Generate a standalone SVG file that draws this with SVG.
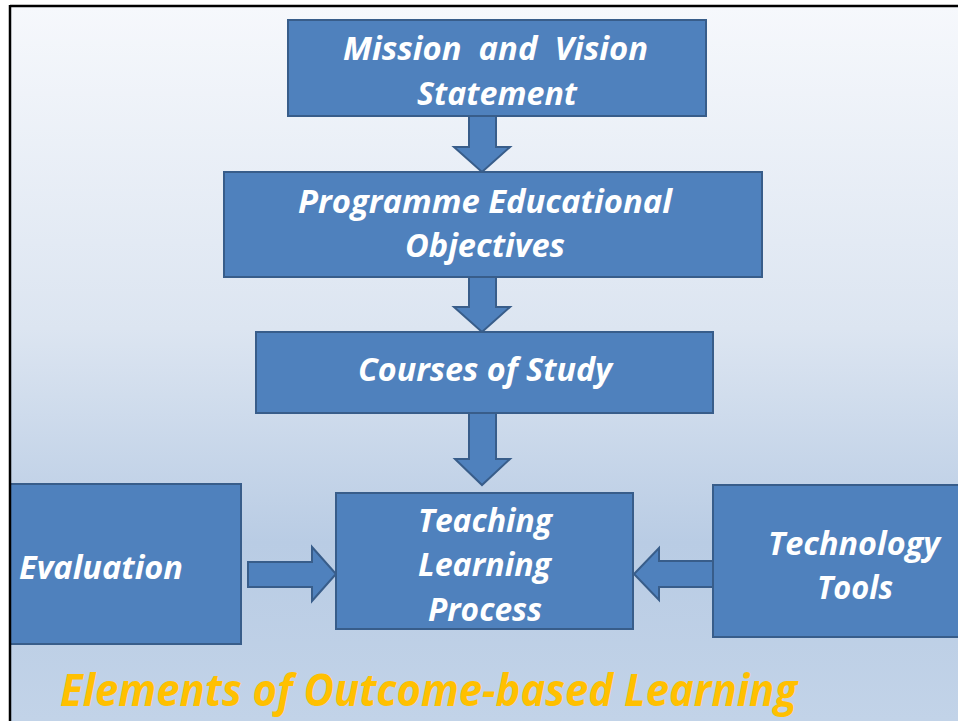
<svg xmlns="http://www.w3.org/2000/svg" width="958" height="721" viewBox="0 0 958 721">
<defs>
<linearGradient id="bg" x1="0" y1="0" x2="0" y2="1">
<stop offset="0" stop-color="#F6F8FC"/>
<stop offset="0.45" stop-color="#DCE5F1"/>
<stop offset="0.75" stop-color="#B9CCE4"/>
<stop offset="1" stop-color="#C2D3E8"/>
</linearGradient>
<style>
.box{fill:#4F81BD;stroke:#385D8A;stroke-width:2}
.arr{fill:#4F81BD;stroke:#385D8A;stroke-width:2;stroke-linejoin:miter}
.t{font-family:"Open Sans","Liberation Sans",sans-serif;font-weight:bold;font-style:italic;font-size:33px;fill:#FFFFFF;white-space:pre}
.title{font-family:"Open Sans","Liberation Sans",sans-serif;font-weight:bold;font-style:italic;font-size:44px;fill:#FFC000}
</style>
</defs>
<rect x="0" y="0" width="958" height="721" fill="#FFFFFF"/>
<rect x="11" y="7" width="947" height="714" fill="url(#bg)"/>

<g id="connectors">
<path class="arr" d="M469,116 L496,116 L496,147 L510,147 L482,172 L454,147 L469,147 Z"/>
<path class="arr" d="M469,277 L496,277 L496,307 L510,307 L482,332 L454,307 L469,307 Z"/>
<path class="arr" d="M469,413 L496,413 L496,459 L510,459 L482,485 L455,459 L469,459 Z"/>
<path class="arr" d="M248,562 L312,562 L312,547 L336,574 L312,601 L312,587 L248,587 Z"/>
<path class="arr" d="M713,561 L659,561 L659,548 L634,574 L659,600 L659,587 L713,587 Z"/>
</g>

<g id="mission">
<rect class="box" x="288" y="20" width="418" height="96"/>
<text class="t" x="343" y="60" textLength="305" lengthAdjust="spacingAndGlyphs">Mission  and  Vision</text>
<text class="t" x="417" y="105" textLength="160" lengthAdjust="spacingAndGlyphs">Statement</text>
</g>

<g id="programme">
<rect class="box" x="224" y="172" width="538" height="105"/>
<text class="t" x="298" y="213" textLength="374" lengthAdjust="spacingAndGlyphs">Programme Educational</text>
<text class="t" x="405" y="257" textLength="160" lengthAdjust="spacingAndGlyphs">Objectives</text>
</g>

<g id="courses">
<rect class="box" x="256" y="332" width="457" height="81"/>
<text class="t" x="358" y="381" textLength="254" lengthAdjust="spacingAndGlyphs">Courses of Study</text>
</g>

<g id="teaching">
<rect class="box" x="336" y="493" width="297" height="136"/>
<text class="t" x="418" y="532" textLength="134" lengthAdjust="spacingAndGlyphs">Teaching</text>
<text class="t" x="418" y="576" textLength="133" lengthAdjust="spacingAndGlyphs">Learning</text>
<text class="t" x="428" y="621" textLength="114" lengthAdjust="spacingAndGlyphs">Process</text>
</g>

<g id="evaluation">
<rect class="box" x="10" y="484" width="231" height="160"/>
<text class="t" x="19" y="579" textLength="164" lengthAdjust="spacingAndGlyphs">Evaluation</text>
</g>

<g id="technology">
<rect class="box" x="713" y="485" width="260" height="152"/>
<text class="t" x="768" y="555" textLength="172" lengthAdjust="spacingAndGlyphs">Technology</text>
<text class="t" x="817" y="599" textLength="76" lengthAdjust="spacingAndGlyphs">Tools</text>
</g>

<g id="frame">
<line x1="10" y1="6" x2="958" y2="6" stroke="#000000" stroke-width="2.5"/>
<line x1="10" y1="5" x2="10" y2="721" stroke="#000000" stroke-width="2.5"/>
</g>

<text class="title" x="60" y="706" textLength="737" lengthAdjust="spacingAndGlyphs">Elements of Outcome-based Learning</text>
</svg>
